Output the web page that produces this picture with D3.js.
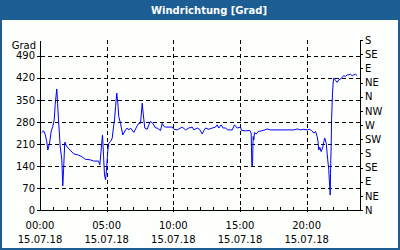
<!DOCTYPE html>
<html>
<head>
<meta charset="utf-8">
<script src="https://cdn.jsdelivr.net/npm/d3@7"></script>
<style>
    body { margin: 0; background: #ffffff; }
    svg { display: block; }
    .axis text { font-family: "DejaVu Sans", sans-serif; font-size: 10px; fill: #000; }
</style>
</head>
<body>
<div id="chart"></div>
<script>
// wind direction over the day, hours since 00:00 and degrees
var hours = [0.08, 0.23, 0.35, 0.47, 0.55, 0.68, 0.80, 0.92, 1.03, 1.10, 1.22, 1.28, 1.35, 1.48, 1.60, 1.67, 1.73, 1.82, 1.97,
    2.23, 2.48, 2.85, 3.10, 3.35, 3.73, 3.98, 4.35, 4.45, 4.58, 4.65, 4.73, 4.80, 4.88, 4.95, 5.05, 5.12, 5.25, 5.38, 5.45,
    5.55, 5.63, 5.72, 5.80, 5.87, 6.00, 6.17, 6.38, 6.50, 6.62, 6.75, 7.00, 7.25, 7.37, 7.50, 7.63, 7.70, 7.82, 8.00, 8.12,
    8.25, 8.42, 8.63, 8.75, 9.00, 9.13, 9.25, 9.38, 9.88, 10.00, 10.25, 10.50, 10.63, 10.88, 11.12, 11.38, 11.50, 11.75,
    11.93, 12.13, 12.25, 12.38, 12.62, 12.88, 13.13, 13.25, 13.37, 13.55, 13.70, 13.88, 14.05, 14.38, 14.55, 14.75, 15.00,
    15.08, 15.38, 15.70, 15.80, 15.85, 15.90, 15.95, 16.00, 16.05, 16.18, 16.33, 16.58, 16.82, 17.00, 17.25, 18.13, 19.00,
    19.25, 19.50, 19.70, 20.00, 20.17, 20.33, 20.50, 20.63, 20.75, 20.83, 20.87, 20.95, 21.05, 21.17, 21.25, 21.32, 21.43,
    21.50, 21.62, 21.68, 21.73, 21.75, 21.80, 21.83, 21.90, 21.95, 22.00, 22.13, 22.25, 22.37, 22.50, 22.63, 22.75, 22.88,
    23.00, 23.13, 23.25, 23.38, 23.50, 23.63, 23.75];
var degrees = [247, 253, 242, 219, 192, 214, 251, 267, 288, 336, 386, 341, 288, 203, 161, 78, 129, 217, 203,
    192, 180, 176, 171, 163, 161, 157, 157, 145, 208, 240, 171, 113, 97, 129, 192, 214, 219, 230, 256,
    288, 330, 373, 341, 298, 277, 240, 256, 262, 256, 262, 248, 269, 277, 277, 341, 309, 262, 258, 272,
    283, 277, 262, 262, 254, 277, 267, 265, 265, 258, 256, 262, 265, 256, 262, 265, 256, 262,
    258, 243, 254, 262, 258, 262, 265, 272, 262, 272, 262, 262, 256, 256, 272, 262, 265,
    254, 253, 254, 246, 142, 142, 235, 224, 248, 243, 251, 253, 256, 259, 256, 256, 256,
    259, 256, 258, 256, 258, 254, 246, 251, 235, 214, 192, 201, 187, 201, 219, 230, 214,
    180, 129, 81, 49, 118, 203, 288, 373, 405, 421, 413, 407, 415, 417, 424, 428, 426,
    431, 431, 433, 428, 431, 433, 428];

var leftTicks = [0, 70, 140, 210, 280, 350, 420, 490];
var compassTicks = [0, 45, 90, 135, 180, 225, 270, 315, 360, 405, 450, 495, 540];
var compassLabels = ["N", "NE", "E", "SE", "S", "SW", "W", "NW", "N", "NE", "E", "SE", "S"];
var hourTicks = [0, 5, 10, 15, 20];
var timeLabels = ["00:00", "05:00", "10:00", "15:00", "20:00"];
var dateLabels = ["15.07.18", "15.07.18", "15.07.18", "15.07.18", "15.07.18"];

var width = 400, height = 250;
var frameColor = "#1c5e94";
var lineColor = "#0000ff";

var svg = d3.select("#chart")
    .append("svg")
    .attr("width", width)
    .attr("height", height);

// frame + title bar
svg.append("rect")
    .attr("x", 1).attr("y", 1)
    .attr("width", width - 2).attr("height", height - 2)
    .attr("fill", "#fdfffd")
    .attr("stroke", frameColor)
    .attr("stroke-width", 2);
svg.append("rect")
    .attr("x", 0).attr("y", 0)
    .attr("width", width).attr("height", 20)
    .attr("fill", frameColor);
svg.append("text")
    .attr("x", 209).attr("y", 14)
    .attr("text-anchor", "middle")
    .attr("fill", "#ffffff")
    .attr("font-family", "DejaVu Sans, sans-serif")
    .attr("font-weight", "bold")
    .attr("font-size", "10px")
    .text("Windrichtung [Grad]");

var plotLeft = 40, plotRight = 360, plotTop = 40, plotBottom = 210;

var x = d3.scaleLinear()
    .domain([0, 24])
    .range([plotLeft, plotRight]);
var y = d3.scaleLinear()
    .domain([0, 540])
    .range([plotBottom, plotTop]);

// dashed grid
var grid = svg.append("g")
    .attr("stroke", "#000")
    .attr("stroke-dasharray", "4,3")
    .attr("shape-rendering", "crispEdges");
grid.selectAll(".hgrid")
    .data(leftTicks.slice(1))
    .enter().append("line")
    .attr("x1", plotLeft + 1).attr("x2", plotRight)
    .attr("y1", d => Math.round(y(d)) + 0.5).attr("y2", d => Math.round(y(d)) + 0.5);
grid.selectAll(".vgrid")
    .data(hourTicks.slice(1))
    .enter().append("line")
    .attr("x1", d => Math.round(x(d)) + 0.5).attr("x2", d => Math.round(x(d)) + 0.5)
    .attr("y1", plotTop).attr("y2", plotBottom + 3);

// line
var line = d3.line()
    .x((d, i) => x(hours[i]) + 0.5)
    .y(d => y(d) + 0.5);
svg.append("path")
    .datum(degrees)
    .attr("fill", "none")
    .attr("stroke", lineColor)
    .attr("stroke-width", 1)
    .attr("d", line);

// axes
var yAxis = d3.axisLeft(y)
    .tickValues(leftTicks)
    .tickSize(3)
    .tickSizeOuter(0)
    .tickPadding(2);
svg.append("g")
    .attr("class", "axis")
    .attr("transform", "translate(" + plotLeft + ",0)")
    .call(yAxis);

var compassAxis = d3.axisRight(y)
    .tickValues(compassTicks)
    .tickFormat((d, i) => compassLabels[i])
    .tickSize(3)
    .tickSizeOuter(0)
    .tickPadding(2);
svg.append("g")
    .attr("class", "axis")
    .attr("transform", "translate(" + plotRight + ",0)")
    .call(compassAxis);

var xAxis = d3.axisBottom(x)
    .tickValues(d3.range(0, 25))
    .tickFormat("")
    .tickSize(-3)
    .tickSizeOuter(0);
svg.append("g")
    .attr("class", "axis")
    .attr("transform", "translate(0," + plotBottom + ")")
    .call(xAxis);

svg.selectAll(".axis path, .axis line")
    .attr("shape-rendering", "crispEdges")
    .attr("stroke", "#000");

svg.append("text")
    .attr("x", 36).attr("y", 49)
    .attr("text-anchor", "end")
    .attr("font-family", "DejaVu Sans, sans-serif")
    .attr("font-size", "10px")
    .text("Grad");

var xLabels = svg.append("g")
    .attr("font-family", "DejaVu Sans, sans-serif")
    .attr("font-size", "10px")
    .attr("text-anchor", "middle");
xLabels.selectAll(".time")
    .data(hourTicks)
    .enter().append("text")
    .attr("x", d => x(d))
    .attr("y", 229)
    .text((d, i) => timeLabels[i]);
xLabels.selectAll(".date")
    .data(hourTicks)
    .enter().append("text")
    .attr("x", d => x(d))
    .attr("y", 243)
    .text((d, i) => dateLabels[i]);
</script>
</body>
</html>
